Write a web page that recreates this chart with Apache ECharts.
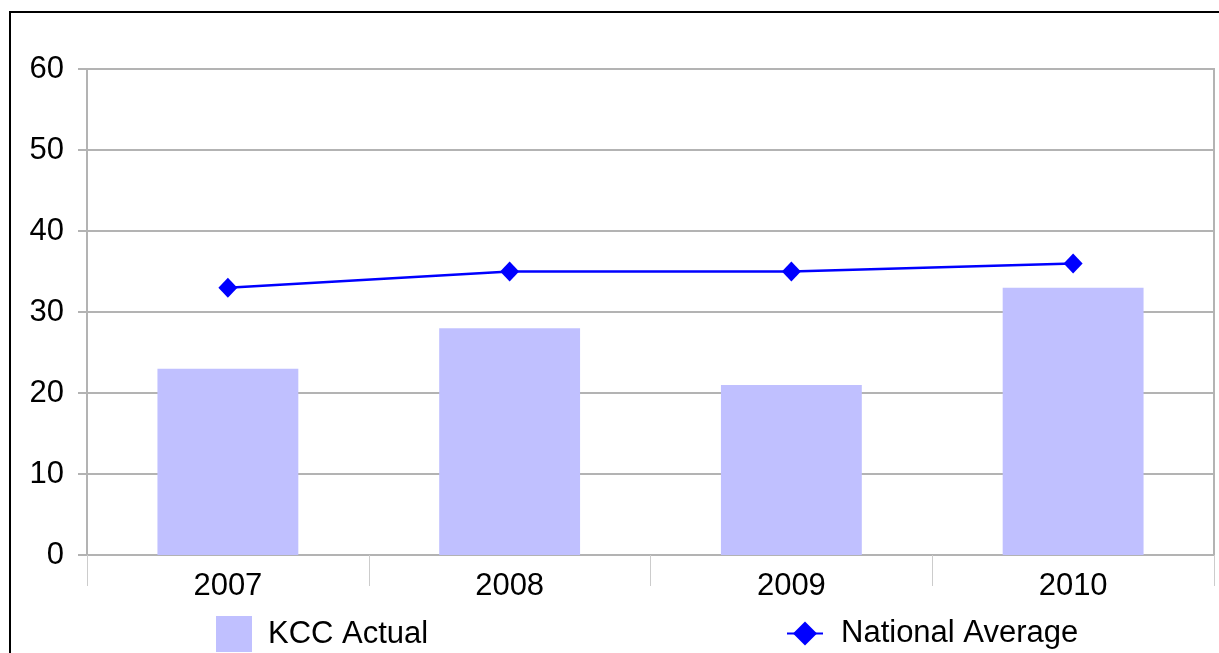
<!DOCTYPE html>
<html>
<head>
<meta charset="utf-8">
<script src="https://cdn.jsdelivr.net/npm/echarts@6/dist/echarts.min.js"></script>
<style>
  html, body { margin: 0; padding: 0; background: #fff; }
  #chart { width: 1219px; height: 653px; }
</style>
</head>
<body>
<div id="chart"></div>
<script>
// KCC Actual vs National Average
const years = ['2007', '2008', '2009', '2010'];
const kccActual = [23, 28, 21, 33];
const nationalAverage = [33, 35, 35, 36];
const yTicks = { min: 0, max: 60, interval: 10 };

const gray = '#b3b3b3';
const font = 'Liberation Sans, Arial, sans-serif';
const fs = 31;

const myChart = echarts.init(document.getElementById('chart'));
const option = {
    animation: false,
    backgroundColor: '#fff',
    graphic: [{
        type: 'rect',
        shape: { x: 10, y: 12, width: 1400, height: 1000 },
        style: { fill: 'none', stroke: '#000', lineWidth: 2 },
        silent: true
    }],
    grid: {
        left: 87, right: 5, top: 69, bottom: 98,
        show: true, borderColor: gray, borderWidth: 2
    },
    legend: [
        {
            data: [{ name: 'KCC Actual', icon: 'rect' }],
            left: 216, top: 616,
            itemWidth: 36, itemHeight: 36, itemGap: 0,
            textStyle: { fontSize: fs, fontFamily: font, color: '#000', padding: [0, 0, 0, 11] },
            padding: 0
        },
        {
            data: ['National Average'],
            left: 786, top: 618,
            itemWidth: 36, itemHeight: 30,
            textStyle: { fontSize: fs, fontFamily: font, color: '#000', padding: [0, 0, 0, 13] },
            padding: 0
        }
    ],
    xAxis: {
        type: 'category',
        data: years,
        axisLine: { lineStyle: { color: gray, width: 2 } },
        axisTick: { show: true, length: 31, lineStyle: { color: '#cccccc', width: 1 } },
        axisLabel: { fontSize: fs, fontFamily: font, color: '#000', margin: 16 }
    },
    yAxis: {
        type: 'value',
        min: yTicks.min, max: yTicks.max, interval: yTicks.interval,
        axisLine: { show: true, lineStyle: { color: gray, width: 2 } },
        axisTick: { show: true, length: 9, lineStyle: { color: gray, width: 2 } },
        axisLabel: { fontSize: fs, fontFamily: font, color: '#000', margin: 23 },
        splitLine: { lineStyle: { color: gray, width: 2 } }
    },
    series: [
        {
            name: 'KCC Actual',
            type: 'bar',
            data: kccActual,
            barWidth: '50%',
            itemStyle: { color: '#c0c0ff' }
        },
        {
            name: 'National Average',
            type: 'line',
            data: nationalAverage,
            symbol: 'diamond',
            symbolSize: [19, 20],
            lineStyle: { color: '#0000ff', width: 2.5 },
            itemStyle: { color: '#0000ff' }
        }
    ]
};
myChart.setOption(option);
</script>
</body>
</html>
